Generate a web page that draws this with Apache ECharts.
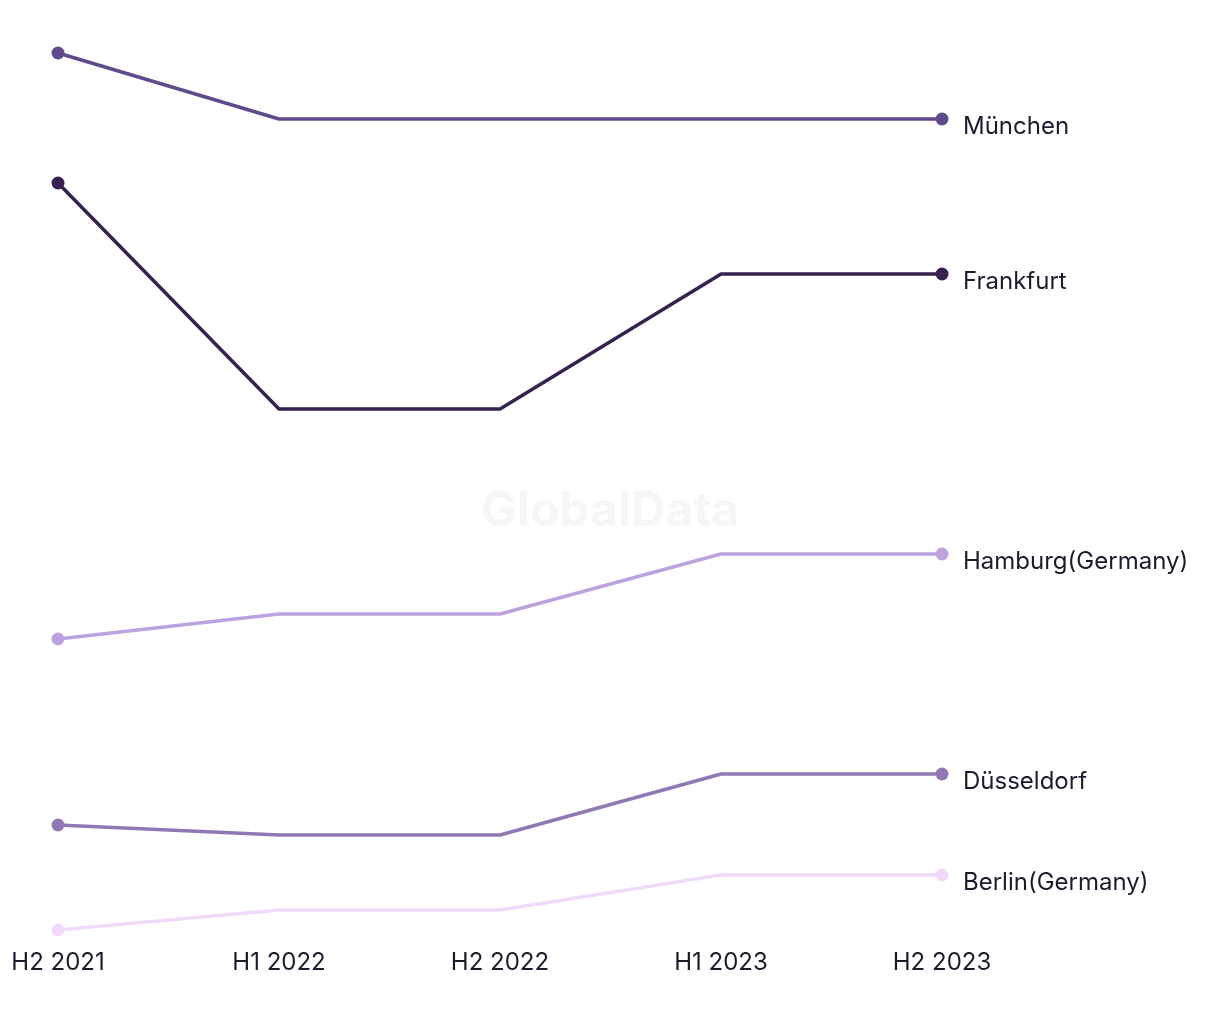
<!DOCTYPE html>
<html>
<head>
<meta charset="utf-8">
<script src="https://cdn.jsdelivr.net/npm/echarts@6/dist/echarts.min.js"></script>
<style>html,body{margin:0;padding:0;background:#fff;}#c{width:1220px;height:1020px;}</style>
</head>
<body>
<div id="c"></div>
<script>
const categories = ['H2 2021', 'H1 2022', 'H2 2022', 'H1 2023', 'H2 2023'];
const muenchen = [877, 811, 811, 811, 811];
const frankfurt = [747, 521, 521, 656, 656];
const hamburg = [291, 316, 316, 376, 376];
const duesseldorf = [105, 95, 95, 156, 156];
const berlin = [0, 20, 20, 55, 55];

const seriesDefs = [
  { name: 'München', data: muenchen, color: '#5f4b8b' },
  { name: 'Frankfurt', data: frankfurt, color: '#36214f' },
  { name: 'Hamburg(Germany)', data: hamburg, color: '#bca3e0' },
  { name: 'Düsseldorf', data: duesseldorf, color: '#8f78b3' },
  { name: 'Berlin(Germany)', data: berlin, color: '#f1dafc' }
];

const FONT = 'Inter, "Noto Sans", sans-serif';
const chart = echarts.init(document.getElementById('c'));
const last = categories.length - 1;
chart.setOption({
  animation: false,
  backgroundColor: '#ffffff',
  graphic: [{
    type: 'text', left: 'center', top: 488,
    style: { text: 'GlobalData', font: 'bold 48px ' + FONT, fill: '#f6f6f6' },
    z: 0
  }],
  grid: { left: 58, right: 278, top: 53, bottom: 90, containLabel: false },
  xAxis: {
    type: 'category', data: categories, boundaryGap: false,
    axisLine: { show: false }, axisTick: { show: false }, splitLine: { show: false },
    axisLabel: { color: '#1b1b2f', fontSize: 24, fontFamily: FONT, margin: 21 }
  },
  yAxis: { type: 'value', min: 0, max: 877, show: false, splitLine: { show: false } },
  series: seriesDefs.map(s => ({
    name: s.name, type: 'line', data: s.data, z: 3,
    lineStyle: { color: s.color, width: 3.5 },
    itemStyle: { color: s.color },
    symbol: 'circle',
    symbolSize: (v, p) => (p.dataIndex === 0 || p.dataIndex === last) ? 13 : 0,
    showAllSymbol: true,
    endLabel: {
      show: true, formatter: '{a}', color: '#1b1b2f', fontSize: 24, fontFamily: FONT,
      distance: 21, offset: [0, 7.5]
    }
  }))
});
</script>
</body>
</html>
